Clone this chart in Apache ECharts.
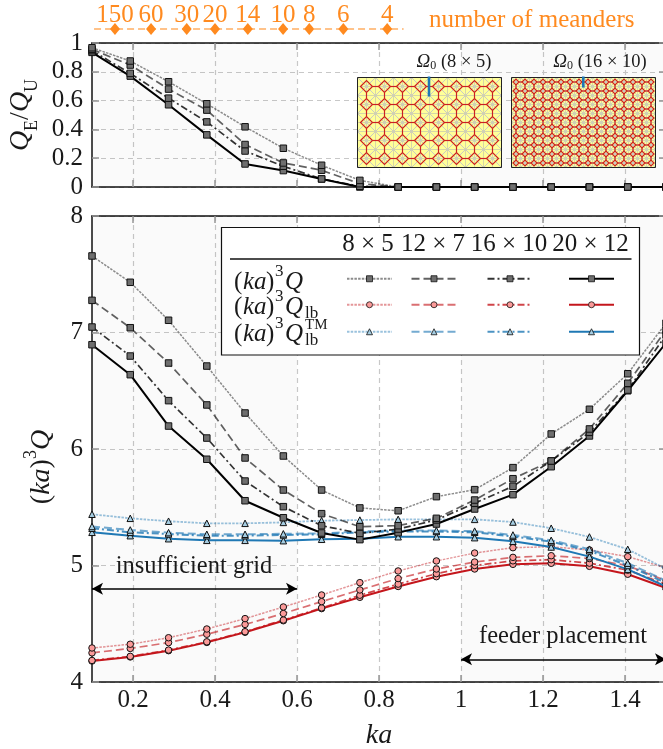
<!DOCTYPE html>
<html><head><meta charset="utf-8">
<style>html,body{margin:0;padding:0;background:#fff;overflow:hidden}#c{width:663px;height:749px}</style>
<script src="https://cdn.jsdelivr.net/npm/echarts@6/dist/echarts.min.js"></script></head>
<body><div id="c"></div>
<script>
const ka = [0.1,0.1933,0.2867,0.38,0.4733,0.5667,0.66,0.7533,0.8467,0.94,1.0333,1.1267,1.22,1.3133,1.4067,1.5];
const ticksX = [0.2,0.4,0.6,0.8,1,1.2,1.4];
const meanderLabels = ['150','60','30','20','14','10','8','6','4'];
const meanderKa = [0.156,0.244,0.331,0.4,0.48,0.566,0.63,0.713,0.82];
const meanderSpan = [0.105,0.86];
const gridNames = ['8 × 5','12 × 7','16 × 10','20 × 12'];

const ratio8 = [0.967,0.875,0.731,0.578,0.418,0.269,0.151,0.046,0,0,0,0,0,0,0,0];
const ratio12 = [0.956,0.847,0.68,0.534,0.295,0.167,0.116,0.023,0,0,0,0,0,0,0,0];
const ratio16 = [0.947,0.789,0.617,0.452,0.25,0.144,0.056,0.005,0,0,0,0,0,0,0,0];
const ratio20 = [0.935,0.77,0.571,0.362,0.16,0.114,0.056,0,0,0,0,0,0,0,0,0];

const q8 = [7.657,7.431,7.105,6.712,6.309,5.94,5.648,5.494,5.47,5.591,5.651,5.84,6.129,6.341,6.646,7.08];
const q12 = [7.276,7.041,6.738,6.378,5.923,5.648,5.445,5.333,5.342,5.405,5.562,5.745,5.897,6.172,6.564,7.02];
const q16 = [7.047,6.798,6.415,6.094,5.725,5.505,5.342,5.276,5.313,5.391,5.534,5.68,5.897,6.143,6.506,6.98];
const q20 = [6.895,6.638,6.197,5.912,5.556,5.41,5.279,5.222,5.282,5.356,5.485,5.608,5.848,6.112,6.5,6.91];

const lb8 = [4.292,4.324,4.38,4.455,4.544,4.644,4.747,4.853,4.953,5.039,5.107,5.153,5.161,5.133,5.076,4.98];
const lb12 = [4.25,4.288,4.338,4.41,4.494,4.588,4.69,4.79,4.888,4.97,5.03,5.07,5.084,5.06,4.998,4.87];
const lb16 = [4.185,4.22,4.274,4.345,4.432,4.532,4.636,4.745,4.84,4.93,5.0,5.04,5.05,5.02,4.96,4.84];
const lb20 = [4.18,4.215,4.269,4.34,4.427,4.526,4.63,4.727,4.82,4.904,4.97,5.01,5.019,4.993,4.925,4.807];

const tm8 = [5.44,5.405,5.38,5.362,5.362,5.37,5.385,5.39,5.396,5.396,5.396,5.373,5.32,5.245,5.139,4.97];
const tm12 = [5.335,5.305,5.282,5.268,5.268,5.272,5.275,5.292,5.3,5.3,5.295,5.262,5.216,5.14,5.02,4.87];
const tm16 = [5.32,5.285,5.27,5.256,5.256,5.262,5.268,5.284,5.292,5.292,5.285,5.25,5.204,5.126,5.0,4.85];
const tm20 = [5.285,5.256,5.23,5.216,5.216,5.213,5.225,5.23,5.247,5.247,5.239,5.208,5.159,5.076,4.967,4.82];

const SERIF = '"Liberation Serif","DejaVu Serif",serif';
const INK = '#1a1a1a', ORANGE = '#ff8a1f', BLUEFEED = '#1f78b4';
const styles = [
  {type:[2.5,1.2], width:1.5, op:0.45},
  {type:[8,4], width:1.7, op:0.62},
  {type:[7,3,2,3], width:1.7, op:0.8},
  {type:'solid', width:2, op:1}
];
const families = {
  q:{color:'#000', sym:'rect', fill:'#6e6e6e', sets:[q8,q12,q16,q20], size:6.5, wx:1},
  lb:{color:'#c4161c', sym:'circle', fill:'#fb9a99', sets:[lb8,lb12,lb16,lb20], size:6.5, wx:1},
  tm:{color:'#1f78b4', sym:'triangle', fill:'#a6cee3', sets:[tm8,tm12,tm16,tm20], size:6.5, wx:1.2}
};

function mkSeries(name, values, fam, j, xi, yi, z) {
  const s = styles[j];
  return {
    name, type:'line', xAxisIndex:xi, yAxisIndex:yi, z, clip:false,
    data: ka.map((x,i)=>[x, values[i]]),
    symbol:fam.sym, symbolSize:fam.size, showSymbol:true,
    lineStyle:{color:fam.color, width:s.width*(j<3?fam.wx:1), type:s.type, opacity:s.op},
    itemStyle:{color:fam.fill, borderColor:'#111', borderWidth:1, opacity:1},
    emphasis:{disabled:true}, animation:false
  };
}

const series = [];
[[0,0],[1,1]].forEach(([xi,yi])=>{
  series.push({type:'line', xAxisIndex:xi, yAxisIndex:yi, data:[], z:1, silent:true, animation:false,
    markArea:{silent:true, itemStyle:{color:'rgba(0,0,0,0.02)'},
      data:[[{xAxis:0.1},{xAxis:0.6}],[{xAxis:1},{xAxis:1.5}]]}});
});
[ratio20,ratio16,ratio12,ratio8].forEach((v,r)=>{
  const j = 3-r;
  series.push(mkSeries('ratio '+gridNames[j], v, families.q, j, 0, 0, 3+r));
});
['lb','tm','q'].forEach((k,f)=>{
  [3,2,1,0].forEach(j=>{
    series.push(mkSeries(k+' '+gridNames[j], families[k].sets[j], families[k], j, 1, 1, 3+f));
  });
});
const meanderData = [{value:[meanderSpan[0],0],symbol:'none',label:{show:false}}]
  .concat(meanderKa.map((x,i)=>({value:[x,0],name:meanderLabels[i]})))
  .concat([{value:[meanderSpan[1],0],symbol:'none',label:{show:false}}]);
series.push({type:'line', xAxisIndex:2, yAxisIndex:2, data:meanderData, clip:false, animation:false,
  symbol:'diamond', symbolSize:[10,12], z:5,
  lineStyle:{color:ORANGE, width:1.5, type:[7,4], opacity:0.7},
  itemStyle:{color:ORANGE, opacity:1},
  label:{show:true, position:'top', distance:0, offset:[0,5], formatter:p=>p.name, color:ORANGE, fontFamily:SERIF, fontSize:25},
  emphasis:{disabled:true}
});
series.push({type:'line', xAxisIndex:1, yAxisIndex:1, data:[], z:8, silent:true, animation:false,
  markLine:{silent:true, symbol:['arrow','arrow'], symbolSize:[9,11], animation:false,
    lineStyle:{color:'#000', width:1.6, type:'solid'}, label:{show:false}, emphasis:{disabled:true},
    data:[[{coord:[0.1,4.8]},{coord:[0.6,4.8]}],[{coord:[1,4.195]},{coord:[1.5,4.195]}]]}});

function xAxisBase(gridIndex, pos, labels) {
  return {type:'value', gridIndex, position:pos, min:0.1, max:1.5,
    axisLine:{show:true, onZero:false, lineStyle:{color:'#111', width:1.5}},
    axisTick:{show:true, inside:true, length:7, customValues:ticksX, lineStyle:{color:'#999', width:1.5}},
    axisLabel:labels?{show:true, customValues:ticksX, color:INK, fontFamily:SERIF, fontSize:25, margin:6,
      formatter:v=>String(v)}:{show:false},
    splitLine:{show:pos==='bottom', lineStyle:{color:'#c8c8c8', type:[5,4], width:1.2}},
    name: labels?'{i|ka}':'', nameLocation:'middle', nameGap:40,
    nameTextStyle:{rich:{i:{fontFamily:SERIF, fontStyle:'italic', fontSize:28, color:INK}}}
  };
}
function yAxisBase(gridIndex, pos, min, max, interval, name, gap, pad) {
  return {type:'value', gridIndex, position:pos, min, max, interval,
    axisLine:{show:true, onZero:false, lineStyle:{color:'#111', width:1.5}},
    axisTick:{show:true, inside:true, length:7, lineStyle:{color:'#999', width:1.5}},
    axisLabel:pos==='left'?{show:true, color:INK, fontFamily:SERIF, fontSize:25, margin:9, formatter:v=>String(+v.toFixed(1))}:{show:false},
    splitLine:{show:pos==='left', lineStyle:{color:'#c8c8c8', type:[5,4], width:1.2}},
    name, nameLocation:'middle', nameRotate:90, nameGap:gap,
    nameTextStyle:{padding:pad||0, rich:{
      i:{fontFamily:SERIF, fontStyle:'italic', fontSize:28, color:INK, lineHeight:40},
      n:{fontFamily:SERIF, fontSize:28, color:INK, lineHeight:40},
      sub:{fontFamily:SERIF, fontSize:18, color:INK, verticalAlign:'bottom', lineHeight:29},
      sup:{fontFamily:SERIF, fontSize:18, color:INK, verticalAlign:'top', lineHeight:26}
    }}
  };
}

const option = {
  animation:false, backgroundColor:'#fff',
  grid:[
    {left:92, top:43, width:574, height:144, outerBoundsMode:'none', containLabel:false},
    {left:92, top:216, width:574, height:466, outerBoundsMode:'none', containLabel:false},
    {left:92, top:20, width:574, height:18, outerBoundsMode:'none', containLabel:false}
  ],
  xAxis:[
    xAxisBase(0,'bottom',false),
    xAxisBase(1,'bottom',true),
    {type:'value', gridIndex:2, min:0.1, max:1.5, show:false},
    xAxisBase(0,'top',false),
    xAxisBase(1,'top',false)
  ],
  yAxis:[
    yAxisBase(0,'left',0,1,0.2,'{i|Q}{sub|E}{n|/}{i|Q}{sub|U}',51),
    yAxisBase(1,'left',4,8,1,'{n|(}{i|ka}{n|)}{sup|3}{i|Q}',30,[0,36,0,0]),
    {type:'value', gridIndex:2, min:-0.5, max:0.5, show:false},
    yAxisBase(0,'right',0,1,0.2,'',0),
    yAxisBase(1,'right',4,8,1,'',0)
  ],
  series,
  legend:[],
  graphic:[]
};

const sampleX = [346,410.5,486.5,568], rowY = [275,301,328], famKeys=['q','lb','tm'];
famKeys.forEach((k,r)=>{
  gridNames.forEach((g,c)=>{
    option.legend.push({show:true, data:[k+' '+g], left:sampleX[c], top:rowY[r], padding:0, itemWidth:45, itemHeight:7.5,
      itemGap:0, z:30, selectedMode:false, formatter:()=>'', textStyle:{fontSize:1},
      itemStyle:{borderWidth:0.8}});
  });
});

const G = option.graphic;
function T(x,y,text,o){ G.push({type:'text', x, y, z:20, silent:true, style:Object.assign({text, fill:INK, font:'25px '+SERIF, textAlign:'left', textVerticalAlign:'middle'},o||{})}); }
T(429,20.5,'number of meanders',{fill:ORANGE, font:'25px '+SERIF});
T(194,567,'insufficient grid',{font:'24.5px '+SERIF, textAlign:'center'});
T(563,637,'feeder placement',{font:'24.5px '+SERIF, textAlign:'center'});
G.push({type:'rect', z:15, silent:true, shape:{x:221.5,y:227.5,width:418,height:127.5}, style:{fill:'#fff', stroke:'#111', lineWidth:1.2}});
G.push({type:'line', z:16, silent:true, shape:{x1:230,y1:259,x2:631.5,y2:259}, style:{stroke:'#111', lineWidth:1.5}});
[368,433,509,590.5].forEach((x,i)=>T(x,244,gridNames[i],{textAlign:'center'}));
function rowLabel(y, sub, sup){
  T(234,y,'(',{});
  T(243,y,'ka',{font:'italic 25px '+SERIF});
  T(266,y,')',{});
  T(275,y-10,'3',{font:'17px '+SERIF});
  T(285,y,'Q',{font:'italic 25px '+SERIF});
  if(sub) T(305,y+7,sub,{font:'17px '+SERIF});
  if(sup) T(305,y-9,sup,{font:'15px '+SERIF});
}
rowLabel(282); rowLabel(307,'lb'); rowLabel(334,'lb','TM');

function cellPanel(x0,y0,nx,ny,w,h,feedH,feedX,title,titleX){
  const dx=w/nx, dy=h/ny;
  G.push({type:'rect', z:12, silent:true, shape:{x:x0,y:y0,width:w,height:h}, style:{fill:'#ffff99', stroke:'none'}});
  const mesh={stroke:'#c9c9c4', lineWidth:1};
  const L=(x1,y1,x2,y2,st,z)=>G.push({type:'line', z, silent:true, shape:{x1,y1,x2,y2}, style:st});
  for(let i=0;i<=nx*2;i++){ const x=x0+i*dx/2; L(x,y0,x,y0+h,{stroke:'#d6d6a8',lineWidth:1},13); }
  for(let j=0;j<=ny*2;j++){ const y=y0+j*dy/2; L(x0,y,x0+w,y,{stroke:'#d6d6a8',lineWidth:1},13); }
  for(let i=0;i<nx;i++) for(let j=0;j<ny;j++){
    const a=x0+i*dx,b=y0+j*dy;
    L(a,b,a+dx,b+dy,mesh,13); L(a+dx,b,a,b+dy,mesh,13);
  }
  const red={stroke:'#cc2020', lineWidth:1.2, fill:'none'};
  for(let i=0;i<nx;i++) for(let j=0;j<ny;j++){
    const cx=x0+(i+.5)*dx, cy=y0+(j+.5)*dy, r=dx/3;
    G.push({type:'polygon', z:14, silent:true, shape:{points:[[cx-r,cy],[cx,cy-r],[cx+r,cy],[cx,cy+r]]}, style:red});
    if(i<nx-1) L(cx+r,cy,cx+dx-r,cy,red,14);
    if(j<ny-1) L(cx,cy+r,cx,cy+dy-r,red,14);
  }
  G.push({type:'rect', z:14, silent:true, shape:{x:x0,y:y0,width:w,height:h}, style:{fill:'none', stroke:'#222', lineWidth:1}});
  G.push({type:'line', z:15, silent:true, shape:{x1:feedX,y1:y0-1,x2:feedX,y2:y0+feedH}, style:{stroke:BLUEFEED, lineWidth:2.6}});
  G.push({type:'text', x:titleX, y:62, z:20, silent:true, style:{
    text:'{o|Ω}{s|0}{t| ('+title+')}', textAlign:'center', textVerticalAlign:'middle', fill:INK,
    rich:{o:{font:'italic 19px '+SERIF, fill:INK},s:{font:'12px '+SERIF, fill:INK, verticalAlign:'bottom', lineHeight:20},t:{font:'18.5px '+SERIF, fill:INK}}
  }});
}
cellPanel(357.5,77.5,8,5,144,90,19,429,'8 × 5',454);
cellPanel(511.5,77.5,16,10,144,90,10,583.3,'16 × 10',600);

echarts.init(document.getElementById('c'),null,{renderer:'canvas'}).setOption(option);
</script></body></html>
